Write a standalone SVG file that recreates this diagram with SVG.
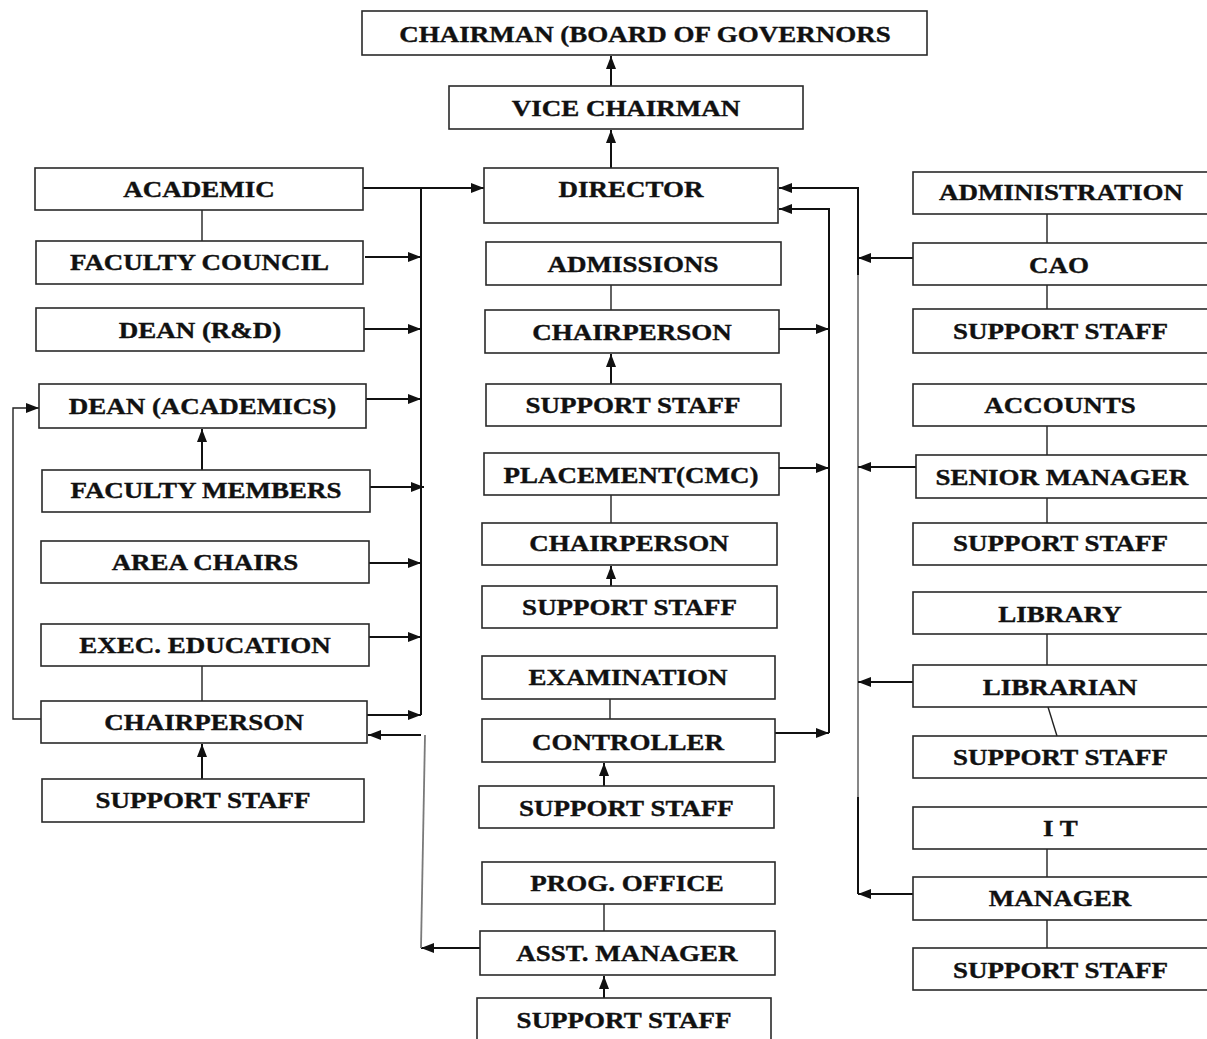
<svg xmlns="http://www.w3.org/2000/svg" width="1207" height="1039" viewBox="0 0 1207 1039">
<style>
.bx{fill:#fff;stroke:#2a2a2a;stroke-width:1.6}
.t{font-family:"Liberation Serif","Times New Roman",serif;font-weight:bold;font-size:22.5px;fill:#111;stroke:#111;stroke-width:0.35;text-anchor:middle;transform-box:fill-box;transform-origin:center;transform:scaleX(1.2)}
.c{fill:none;stroke:#111;stroke-width:2}
.l{fill:none;stroke:#222;stroke-width:1.4}
.g{fill:none;stroke:#7a7a7a;stroke-width:1.8}
</style>
<defs>
<marker id="ah" markerWidth="13" markerHeight="10" refX="13" refY="5" orient="auto" markerUnits="userSpaceOnUse"><path d="M0,0 L13,5 L0,10 z" fill="#111"/></marker>
</defs>
<rect width="1207" height="1039" fill="#fff"/>
<g id="connectors">
<path class="c" d="M611,86 V56" marker-end="url(#ah)"/>
<path class="c" d="M611,168 V130" marker-end="url(#ah)"/>
<path class="c" d="M363,188 H484" marker-end="url(#ah)"/>
<path class="l" d="M202,210 V241"/>
<path class="c" d="M421,188 V715"/>
<path class="c" d="M365,257 H421" marker-end="url(#ah)"/>
<path class="c" d="M364,329 H421" marker-end="url(#ah)"/>
<path class="c" d="M366,399 H421" marker-end="url(#ah)"/>
<path class="c" d="M370,487 H424" marker-end="url(#ah)"/>
<path class="c" d="M369,563 H421" marker-end="url(#ah)"/>
<path class="c" d="M369,637 H421" marker-end="url(#ah)"/>
<path class="c" d="M367,715 H421" marker-end="url(#ah)"/>
<path class="c" d="M202,470 V429" marker-end="url(#ah)"/>
<path class="l" d="M202,666 V701"/>
<path class="l" d="M41,719 H13 V408 H39" marker-end="url(#ah)"/>
<path class="c" d="M202,779 V744" marker-end="url(#ah)"/>
<path class="c" d="M480,948 H421" marker-end="url(#ah)"/>
<path class="g" d="M425,735 L421,948"/>
<path class="c" d="M421,735 H368" marker-end="url(#ah)"/>
<path class="l" d="M611,285 V310"/>
<path class="c" d="M611,384 V354" marker-end="url(#ah)"/>
<path class="c" d="M779,329 H829" marker-end="url(#ah)"/>
<path class="c" d="M779,468 H829" marker-end="url(#ah)"/>
<path class="l" d="M611,495 V523"/>
<path class="c" d="M611,586 V566" marker-end="url(#ah)"/>
<path class="l" d="M610,699 V719"/>
<path class="c" d="M775,733 H829" marker-end="url(#ah)"/>
<path class="c" d="M604,786 V763" marker-end="url(#ah)"/>
<path class="l" d="M604,904 V931"/>
<path class="c" d="M604,998 V976" marker-end="url(#ah)"/>
<path class="c" d="M829,733 V209 H779" marker-end="url(#ah)"/>
<path class="c" d="M858,275 V188 H779" marker-end="url(#ah)"/>
<path class="g" d="M858,275 V797"/>
<path class="c" d="M858,797 V894"/>
<path class="c" d="M913,258 H858" marker-end="url(#ah)"/>
<path class="c" d="M916,467 H858" marker-end="url(#ah)"/>
<path class="c" d="M913,682 H858" marker-end="url(#ah)"/>
<path class="c" d="M913,894 H858" marker-end="url(#ah)"/>
<path class="l" d="M1047,214 V243"/>
<path class="l" d="M1047,285 V309"/>
<path class="l" d="M1047,426 V455"/>
<path class="l" d="M1047,498 V523"/>
<path class="l" d="M1047,634 V665"/>
<path class="l" d="M1048,707 L1057,736"/>
<path class="l" d="M1047,849 V877"/>
<path class="l" d="M1047,920 V948"/>
</g>
<g id="n-chairman"><rect class="bx" x="362" y="11" width="565" height="44"/><text class="t" x="645" y="42">CHAIRMAN (BOARD OF GOVERNORS</text></g>
<g id="n-vice"><rect class="bx" x="449" y="86" width="354" height="43"/><text class="t" x="626" y="116">VICE CHAIRMAN</text></g>
<g id="n-director"><rect class="bx" x="484" y="168" width="294" height="55"/><text class="t" x="631" y="197">DIRECTOR</text></g>
<g id="n-academic"><rect class="bx" x="35" y="168" width="328" height="42"/><text class="t" x="199" y="197">ACADEMIC</text></g>
<g id="n-faculty-council"><rect class="bx" x="36" y="241" width="327" height="43"/><text class="t" x="199.5" y="270">FACULTY COUNCIL</text></g>
<g id="n-dean-rd"><rect class="bx" x="36" y="308" width="328" height="43"/><text class="t" x="200" y="338">DEAN (R&amp;D)</text></g>
<g id="n-dean-acad"><rect class="bx" x="39" y="384" width="327" height="44"/><text class="t" x="202.5" y="414">DEAN (ACADEMICS)</text></g>
<g id="n-faculty-members"><rect class="bx" x="42" y="470" width="328" height="42"/><text class="t" x="206" y="498">FACULTY MEMBERS</text></g>
<g id="n-area-chairs"><rect class="bx" x="41" y="541" width="328" height="42"/><text class="t" x="205" y="570">AREA CHAIRS</text></g>
<g id="n-exec-edu"><rect class="bx" x="41" y="624" width="328" height="42"/><text class="t" x="205" y="653">EXEC. EDUCATION</text></g>
<g id="n-exec-chair"><rect class="bx" x="41" y="701" width="326" height="42"/><text class="t" x="204" y="730">CHAIRPERSON</text></g>
<g id="n-exec-staff"><rect class="bx" x="42" y="779" width="322" height="43"/><text class="t" x="203" y="808">SUPPORT STAFF</text></g>
<g id="n-admissions"><rect class="bx" x="486" y="242" width="295" height="43"/><text class="t" x="633" y="272">ADMISSIONS</text></g>
<g id="n-adm-chair"><rect class="bx" x="485" y="310" width="294" height="43"/><text class="t" x="632" y="340">CHAIRPERSON</text></g>
<g id="n-adm-staff"><rect class="bx" x="486" y="384" width="295" height="42"/><text class="t" x="633" y="413">SUPPORT STAFF</text></g>
<g id="n-placement"><rect class="bx" x="484" y="453" width="295" height="42"/><text class="t" x="631" y="483">PLACEMENT(CMC)</text></g>
<g id="n-pl-chair"><rect class="bx" x="482" y="523" width="295" height="42"/><text class="t" x="629" y="551">CHAIRPERSON</text></g>
<g id="n-pl-staff"><rect class="bx" x="482" y="586" width="295" height="42"/><text class="t" x="629.5" y="615">SUPPORT STAFF</text></g>
<g id="n-exam"><rect class="bx" x="482" y="656" width="293" height="43"/><text class="t" x="628" y="685">EXAMINATION</text></g>
<g id="n-controller"><rect class="bx" x="482" y="719" width="293" height="43"/><text class="t" x="628" y="750">CONTROLLER</text></g>
<g id="n-ex-staff"><rect class="bx" x="479" y="786" width="295" height="42"/><text class="t" x="626.5" y="816">SUPPORT STAFF</text></g>
<g id="n-prog"><rect class="bx" x="482" y="862" width="293" height="42"/><text class="t" x="627" y="891">PROG. OFFICE</text></g>
<g id="n-asst"><rect class="bx" x="480" y="931" width="295" height="44"/><text class="t" x="627" y="961">ASST. MANAGER</text></g>
<g id="n-prog-staff"><rect class="bx" x="477" y="998" width="294" height="50"/><text class="t" x="624" y="1028">SUPPORT STAFF</text></g>
<g id="n-administration"><rect class="bx" x="913" y="172" width="298" height="42"/><text class="t" x="1061" y="200">ADMINISTRATION</text></g>
<g id="n-cao"><rect class="bx" x="913" y="243" width="298" height="42"/><text class="t" x="1059" y="273">CAO</text></g>
<g id="n-cao-staff"><rect class="bx" x="913" y="309" width="298" height="44"/><text class="t" x="1060.5" y="339">SUPPORT STAFF</text></g>
<g id="n-accounts"><rect class="bx" x="913" y="384" width="298" height="42"/><text class="t" x="1060" y="413">ACCOUNTS</text></g>
<g id="n-senior"><rect class="bx" x="916" y="455" width="295" height="43"/><text class="t" x="1062" y="485">SENIOR MANAGER</text></g>
<g id="n-acc-staff"><rect class="bx" x="913" y="523" width="298" height="42"/><text class="t" x="1060.5" y="551">SUPPORT STAFF</text></g>
<g id="n-library"><rect class="bx" x="913" y="592" width="298" height="42"/><text class="t" x="1060" y="622">LIBRARY</text></g>
<g id="n-librarian"><rect class="bx" x="913" y="665" width="298" height="42"/><text class="t" x="1060" y="695">LIBRARIAN</text></g>
<g id="n-lib-staff"><rect class="bx" x="913" y="736" width="298" height="42"/><text class="t" x="1060.5" y="765">SUPPORT STAFF</text></g>
<g id="n-it"><rect class="bx" x="913" y="807" width="298" height="42"/><text class="t" x="1060.5" y="836">I T</text></g>
<g id="n-manager"><rect class="bx" x="913" y="877" width="298" height="43"/><text class="t" x="1060" y="906">MANAGER</text></g>
<g id="n-it-staff"><rect class="bx" x="913" y="948" width="298" height="42"/><text class="t" x="1060.5" y="978">SUPPORT STAFF</text></g>
</svg>
